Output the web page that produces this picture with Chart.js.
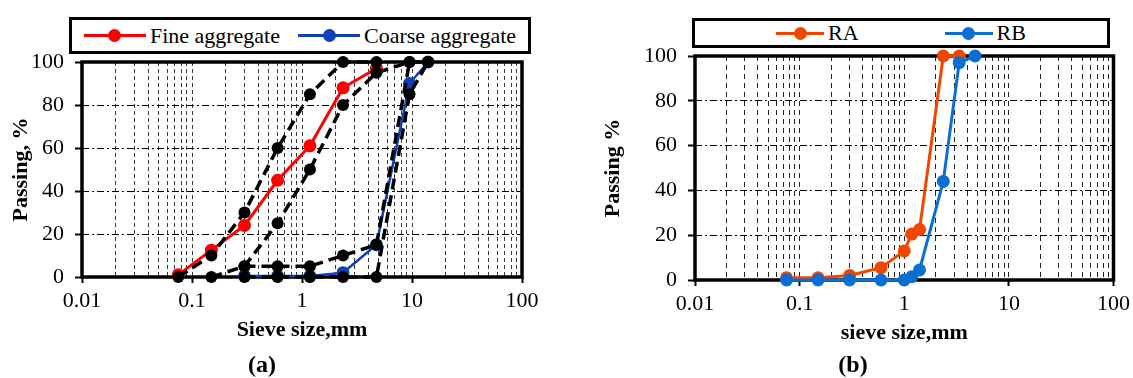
<!DOCTYPE html>
<html>
<head>
<meta charset="utf-8">
<script src="https://cdn.jsdelivr.net/npm/chart.js@4.4.0/dist/chart.umd.min.js"></script>
<style>
  html, body { margin: 0; padding: 0; background: #fff; width: 1133px; height: 378px; overflow: hidden; }
  canvas { position: absolute; top: 0; }
  #chartA { left: 0; }
  #chartB { left: 545px; }
  .legend {
    position: absolute; box-sizing: border-box; border: 3px solid #000; background: #fff;
    display: flex; justify-content: center; align-items: center;
    font: 22px 'Liberation Serif', 'Times New Roman', serif; color: #000;
  }
  #legendA { left: 69px; top: 17px; width: 462px; height: 37px; gap: 18px; }
  #legendB { left: 692px; top: 18px; width: 418px; height: 30px; gap: 86px; }
  .item { display: flex; align-items: center; }
  .sample { position: relative; height: 14px; margin-right: 4px; }
  .sample .ln { position: absolute; left: 0; right: 0; top: 50%; height: 3px; margin-top: -1.5px; }
  .sample .dot { position: absolute; left: 50%; top: 50%; width: 13px; height: 13px; margin: -6.5px 0 0 -6.5px; border-radius: 50%; }
</style>
</head>
<body>
<canvas id="chartA" width="560" height="378"></canvas>
<canvas id="chartB" width="590" height="378"></canvas>
<div class="legend" id="legendA"></div>
<div class="legend" id="legendB"></div>
<script>
// ---- (a) gradation of fine and coarse aggregate, sieve size in mm, passing in %
const fineSizes = [0.075, 0.15, 0.3, 0.6, 1.18, 2.36, 4.75];
const finePassing = [1, 12.5, 24, 45, 61, 88, 97];
const coarseSizes = [0.3, 0.6, 1.18, 2.36, 4.75, 9.5, 14];
const coarsePassing = [0.5, 0.5, 0.5, 2, 15, 90, 100];

// grading limits (dashed black)
const fineLowerSizes = [0.15, 0.3, 0.6, 1.18, 2.36, 4.75, 9.5];
const fineLower = [0, 5, 25, 50, 80, 95, 100];
const fineUpperSizes = [0.075, 0.15, 0.3, 0.6, 1.18, 2.36, 4.75];
const fineUpper = [0, 10, 30, 60, 85, 100, 100];
const coarseLimitSizes = [0.3, 0.6, 1.18, 2.36, 4.75, 9.5, 14];
const coarseLower = [0, 0, 0, 0, 0, 85, 100];
const coarseUpper = [5, 5, 5, 10, 15, 100, 100];

// ---- (b) RA / RB
const raSizes = [0.075, 0.15, 0.3, 0.6, 1.0, 1.18, 1.4, 2.36, 3.35];
const raPassing = [1, 1, 2, 5.5, 13, 20.5, 22.5, 100, 100];
const rbSizes = [0.075, 0.15, 0.3, 0.6, 1.0, 1.18, 1.4, 2.36, 3.35, 4.75];
const rbPassing = [0, 0, 0, 0, 0, 1.5, 4.5, 44, 97, 100];

const xTickLabels = ['0.01', '0.1', '1', '10', '100'];
const yTickLabels = [0, 20, 40, 60, 80, 100];

const serif = "'Liberation Serif', 'Times New Roman', serif";

function pts(xs, ys) {
  return xs.map((x, i) => ({ x: x, y: ys[i] }));
}

// log ticks 1..9 per decade, labels only on the decades
function logTicks(scale) {
  const decades = xTickLabels.map(Number);
  const list = [];
  decades.forEach((d, i) => {
    if (i === decades.length - 1) { list.push({ value: d }); return; }
    for (let m = 1; m <= 9; m++) list.push({ value: +(m * d).toPrecision(3) });
  });
  scale.ticks = list;
}
function isDecade(v) {
  return xTickLabels.indexOf(String(v)) >= 0;
}

// heavy frame round the plot area
const frame = {
  id: 'frame',
  beforeDatasetsDraw(chart) {
    const a = chart.chartArea, ctx = chart.ctx;
    ctx.save();
    ctx.lineWidth = 3.5;
    ctx.strokeStyle = '#000';
    ctx.strokeRect(a.left, a.top, a.right - a.left, a.bottom - a.top);
    ctx.restore();
  }
};

function line(label, data, color, width, dash, radius) {
  return {
    label: label,
    data: data,
    borderColor: color,
    backgroundColor: color,
    borderWidth: width,
    borderDash: dash || [],
    pointRadius: radius,
    pointBorderWidth: 0,
    pointBackgroundColor: color,
    tension: 0,
    clip: false
  };
}

function options(o) {
  return {
    responsive: false,
    animation: false,
    events: [],
    layout: { padding: o.padding },
    plugins: {
      legend: { display: false },
      tooltip: { enabled: false },
      title: {
        display: true, position: 'bottom', text: o.tag,
        font: { family: serif, size: 24, weight: 'bold', lineHeight: 1 },
        color: '#000', padding: { top: o.tagPad, bottom: 0 }
      }
    },
    scales: {
      x: {
        type: 'logarithmic', min: 0.01, max: 100,
        afterBuildTicks: logTicks,
        afterFit: s => { s.height = o.xHeight; },
        ticks: {
          autoSkip: false, maxRotation: 0, padding: 5, color: '#000',
          font: { family: serif, size: 22 },
          callback: v => isDecade(v) ? String(v) : ''
        },
        grid: {
          color: o.xGridColor, lineWidth: 1, tickLength: 6, tickWidth: 2,
          tickColor: c => isDecade(c.tick.value) ? '#000' : 'rgba(0,0,0,0)'
        },
        border: { display: false, dash: o.xDash },
        title: {
          display: true, text: o.xTitle, color: '#000',
          font: { family: serif, size: 22, weight: 'bold' },
          padding: { top: 0, bottom: o.xTitlePad }
        }
      },
      y: {
        min: 0, max: 100,
        afterBuildTicks: s => { s.ticks = yTickLabels.map(v => ({ value: v })); },
        afterFit: s => { s.width = o.yWidth; },
        ticks: { padding: 11, color: '#000', font: { family: serif, size: 22 } },
        grid: { color: '#000', lineWidth: 1, tickLength: 7, tickWidth: 2, tickColor: '#000' },
        border: { display: false, dash: [7, 3, 2, 3] },
        title: {
          display: true, text: o.yTitle, color: '#000',
          font: { family: serif, size: 22, weight: 'bold' },
          padding: { top: o.yTitlePad, bottom: 0 }
        }
      }
    }
  };
}

const red = '#ff0000';
const navy = '#1040b8';
const orange = '#f04600';
const sky = '#0b6fd2';

const chartA = new Chart(document.getElementById('chartA'), {
  type: 'line',
  data: {
    datasets: [
      line('Fine lower limit', pts(fineLowerSizes, fineLower), '#000', 3.5, [11, 6], 6),
      line('Fine upper limit', pts(fineUpperSizes, fineUpper), '#000', 3.5, [11, 6], 6),
      line('Coarse lower limit', pts(coarseLimitSizes, coarseLower), '#000', 3.5, [11, 6], 6),
      line('Coarse upper limit', pts(coarseLimitSizes, coarseUpper), '#000', 3.5, [11, 6], 6),
      line('Coarse aggregate', pts(coarseSizes, coarsePassing), navy, 2.5, null, 6.5),
      line('Fine aggregate', pts(fineSizes, finePassing), red, 3, null, 6.5)
    ]
  },
  options: options({
    padding: { top: 62, left: 2, right: 38, bottom: 0 },
    tag: '(a)', tagPad: 2,
    xHeight: 75, xTitlePad: 8,
    xTitle: 'Sieve size,mm', yTitle: 'Passing, %',
    yWidth: 80, yTitlePad: 6,
    xGridColor: '#3a3a3a', xDash: [4, 3]
  }),
  plugins: [frame]
});

const chartB = new Chart(document.getElementById('chartB'), {
  type: 'line',
  data: {
    datasets: [
      line('RB', pts(rbSizes, rbPassing), sky, 3, null, 6.5),
      line('RA', pts(raSizes, raPassing), orange, 3, null, 6.5)
    ]
  },
  options: options({
    padding: { top: 56, left: 43, right: 17, bottom: 0 },
    tag: '(b)', tagPad: 1,
    xHeight: 73, xTitlePad: 6,
    xTitle: 'sieve size,mm', yTitle: 'Passing %',
    yWidth: 107, yTitlePad: 12,
    xGridColor: '#222', xDash: [5, 4]
  }),
  plugins: [frame]
});

// legend boxes built from the datasets
function buildLegend(el, chart, labels, sampleWidth) {
  labels.forEach(name => {
    const ds = chart.data.datasets.find(d => d.label === name);
    const item = document.createElement('div');
    item.className = 'item';
    const sample = document.createElement('span');
    sample.className = 'sample';
    sample.style.width = sampleWidth + 'px';
    const ln = document.createElement('span');
    ln.className = 'ln';
    ln.style.background = ds.borderColor;
    const dot = document.createElement('span');
    dot.className = 'dot';
    dot.style.background = ds.pointBackgroundColor;
    sample.appendChild(ln);
    sample.appendChild(dot);
    const txt = document.createElement('span');
    txt.textContent = name;
    item.appendChild(sample);
    item.appendChild(txt);
    el.appendChild(item);
  });
}
buildLegend(document.getElementById('legendA'), chartA, ['Fine aggregate', 'Coarse aggregate'], 62);
buildLegend(document.getElementById('legendB'), chartB, ['RA', 'RB'], 48);
</script>
</body>
</html>
